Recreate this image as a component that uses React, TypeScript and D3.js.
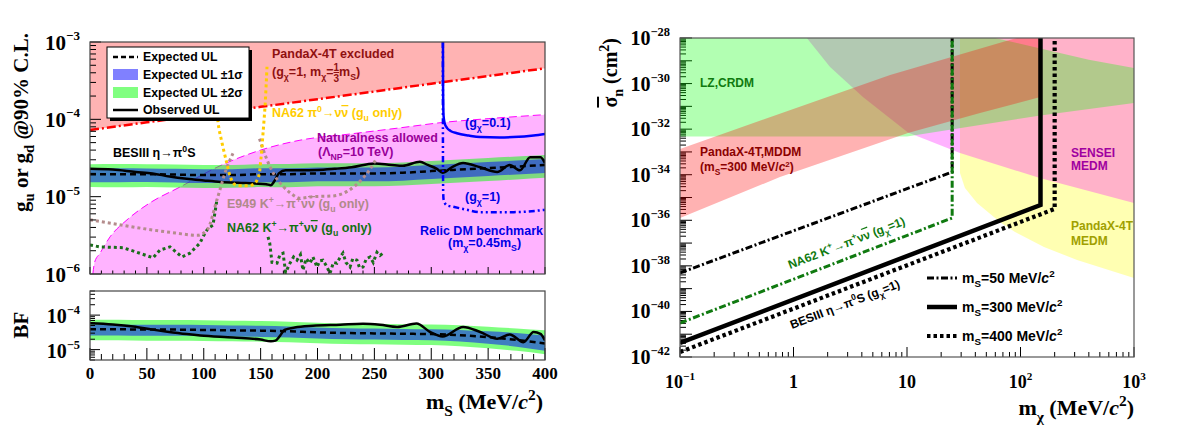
import React from "react";
import * as d3 from "d3";

const SANS = "'Liberation Sans', Arial, Helvetica, sans-serif";
const SERIF = "'Liberation Serif', 'Times New Roman', Times, serif";

// ================= LEFT PANEL DATA (BESIII eta -> pi0 S) =================
const bandMass = [0, 25, 50, 75, 100, 125, 150, 175, 200, 225, 250, 275, 300, 325, 350, 375, 400];
const gExpected = [1.95e-5, 1.95e-5, 1.95e-5, 1.93e-5, 1.9e-5, 1.9e-5, 1.95e-5, 1.95e-5, 2.0e-5, 2.0e-5, 2.0e-5, 2.04e-5, 2.14e-5, 2.24e-5, 2.34e-5, 2.45e-5, 2.57e-5];
const gSigma1Hi = [2.32e-5, 2.33e-5, 2.32e-5, 2.3e-5, 2.27e-5, 2.27e-5, 2.33e-5, 2.33e-5, 2.38e-5, 2.39e-5, 2.39e-5, 2.44e-5, 2.56e-5, 2.68e-5, 2.8e-5, 2.93e-5, 3.07e-5];
const gSigma1Lo = [1.54e-5, 1.54e-5, 1.55e-5, 1.53e-5, 1.5e-5, 1.5e-5, 1.54e-5, 1.54e-5, 1.58e-5, 1.58e-5, 1.58e-5, 1.61e-5, 1.69e-5, 1.77e-5, 1.85e-5, 1.94e-5, 2.03e-5];
const gSigma2Hi = [2.63e-5, 2.64e-5, 2.62e-5, 2.61e-5, 2.57e-5, 2.56e-5, 2.63e-5, 2.64e-5, 2.7e-5, 2.7e-5, 2.71e-5, 2.76e-5, 2.89e-5, 3.03e-5, 3.16e-5, 3.31e-5, 3.47e-5];
const gSigma2Lo = [1.33e-5, 1.32e-5, 1.33e-5, 1.31e-5, 1.29e-5, 1.3e-5, 1.33e-5, 1.32e-5, 1.36e-5, 1.36e-5, 1.36e-5, 1.39e-5, 1.46e-5, 1.52e-5, 1.59e-5, 1.67e-5, 1.75e-5];

const gObsMass = [0, 20, 40, 55, 70, 85, 100, 115, 130, 145, 155, 159, 162, 166, 172, 185, 200, 215, 230, 250, 265, 275, 290, 297, 305, 310, 318, 328, 343, 358, 369, 378, 387, 396, 400];
const gObserved = [2.29e-5, 2.24e-5, 2.09e-5, 2.0e-5, 1.82e-5, 1.7e-5, 1.62e-5, 1.55e-5, 1.51e-5, 1.48e-5, 1.45e-5, 1.41e-5, 1.58e-5, 2.0e-5, 2.19e-5, 2.19e-5, 2.21e-5, 2.29e-5, 2.4e-5, 2.69e-5, 2.57e-5, 2.51e-5, 2.82e-5, 2.57e-5, 2.29e-5, 2.04e-5, 2.4e-5, 2.72e-5, 2.4e-5, 2.09e-5, 2.57e-5, 2.19e-5, 3.24e-5, 3.24e-5, 2.72e-5];

const bfExpected = [3.89e-5, 3.89e-5, 3.8e-5, 3.8e-5, 3.72e-5, 3.63e-5, 3.55e-5, 3.39e-5, 3.16e-5, 3.02e-5, 2.95e-5, 2.88e-5, 2.82e-5, 2.63e-5, 2.29e-5, 1.91e-5, 1.51e-5];
const bfSigma1Hi = [5.37e-5, 5.37e-5, 5.24e-5, 5.24e-5, 5.13e-5, 5.01e-5, 4.9e-5, 4.68e-5, 4.36e-5, 4.17e-5, 4.07e-5, 3.97e-5, 3.89e-5, 3.73e-5, 3.39e-5, 3.02e-5, 2.57e-5];
const bfSigma1Lo = [2.57e-5, 2.57e-5, 2.51e-5, 2.51e-5, 2.46e-5, 2.4e-5, 2.34e-5, 2.24e-5, 2.09e-5, 1.99e-5, 1.95e-5, 1.9e-5, 1.86e-5, 1.72e-5, 1.49e-5, 1.22e-5, 0.93e-5];
const bfSigma2Hi = [7.39e-5, 7.39e-5, 7.22e-5, 7.22e-5, 7.07e-5, 6.9e-5, 6.75e-5, 6.44e-5, 6.0e-5, 5.74e-5, 5.61e-5, 5.47e-5, 5.36e-5, 5.1e-5, 4.6e-5, 4.1e-5, 3.63e-5];
const bfSigma2Lo = [1.87e-5, 1.87e-5, 1.82e-5, 1.82e-5, 1.79e-5, 1.74e-5, 1.7e-5, 1.63e-5, 1.52e-5, 1.45e-5, 1.42e-5, 1.38e-5, 1.35e-5, 1.26e-5, 1.1e-5, 0.92e-5, 0.74e-5];

const bfObsMass = [0, 20, 38, 55, 68, 85, 97, 126, 150, 159, 163, 167, 171, 180, 196, 220, 240, 255, 270, 287, 299, 310, 328, 343, 358, 369, 381, 390, 396, 400];
const bfObserved = [5.82e-5, 5.37e-5, 4.68e-5, 3.8e-5, 3.31e-5, 2.82e-5, 2.57e-5, 2.24e-5, 1.95e-5, 1.74e-5, 1.82e-5, 2.51e-5, 3.72e-5, 4.37e-5, 4.9e-5, 5.25e-5, 5.62e-5, 5.25e-5, 4.54e-5, 5.69e-5, 3.24e-5, 2.41e-5, 4.54e-5, 3.24e-5, 2.06e-5, 2.76e-5, 1.64e-5, 3.24e-5, 2.88e-5, 1.84e-5];

const pandaxMass = [0, 50, 100, 150, 200, 250, 300, 350, 400];
const pandaxG = [7.28e-5, 9.15e-5, 1.15e-4, 1.45e-4, 1.82e-4, 2.29e-4, 2.89e-4, 3.63e-4, 4.57e-4];

const naturalMass = [2.5, 4, 8.8, 17.6, 32.5, 52.7, 79, 111.6, 149.5, 184.6, 228.6, 272.5, 310.3, 350, 400];
const naturalG = [1e-6, 1.41e-6, 1.86e-6, 3.02e-6, 5.01e-6, 8.32e-6, 1.33e-5, 2.4e-5, 3.98e-5, 5.37e-5, 6.46e-5, 7.76e-5, 9.12e-5, 1.02e-4, 1.15e-4];

const relic01Mass = [310.3, 310.4, 310.8, 311.8, 313.8, 317, 322.6, 333, 343, 360, 372, 390, 400];
const relic01G = [1e-3, 2.51e-4, 1.12e-4, 8.91e-5, 7.76e-5, 7.08e-5, 6.61e-5, 6.17e-5, 5.89e-5, 5.82e-5, 5.89e-5, 6.17e-5, 6.46e-5];
const relic1Mass = [310.2, 310.3, 310.5, 310.9, 313.5, 319.2, 331.4, 342.9, 371.9, 400];
const relic1G = [1e-3, 3.16e-5, 1.12e-5, 9.12e-6, 7.76e-6, 7.41e-6, 6.76e-6, 6.31e-6, 6.31e-6, 6.76e-6];

const na62Pi0Mass = [110.5, 112.5, 116, 120, 123.5, 127, 136, 144, 148, 150, 152, 154, 155.6];
const na62Pi0G = [5.01e-4, 9.33e-5, 5.01e-5, 2.82e-5, 1.78e-5, 1.45e-5, 1.38e-5, 1.45e-5, 1.78e-5, 2.82e-5, 6.31e-5, 1.58e-4, 4.79e-4];

const e949LeftMass = [0, 25, 50, 75, 94, 103, 111.6, 120.4, 125.7];
const e949LeftG = [5.01e-6, 4.37e-6, 3.8e-6, 3.39e-6, 3.16e-6, 3.72e-6, 9.12e-6, 2.4e-5, 3.63e-5];
const e949RightMass = [149, 155, 162, 170, 176, 185, 196, 213, 226, 240, 246, 252];
const e949RightG = [5.62e-5, 3.16e-5, 1.91e-5, 1.35e-5, 1.12e-5, 9.55e-6, 1e-5, 1.02e-5, 1.17e-5, 1.74e-5, 2.24e-5, 3.16e-5];

const na62KLeftMass = [0, 8.8, 29, 41.3, 55.4, 61.5, 70.3, 80.9, 87.9, 96.7, 99.3, 103.7, 108.1, 111.6];
const na62KLeftG = [2.37e-6, 2.24e-6, 2.19e-6, 1.91e-6, 1.62e-6, 2.04e-6, 2.24e-6, 1.66e-6, 1.86e-6, 2.51e-6, 3.02e-6, 3.89e-6, 4.27e-6, 9.12e-6];
const na62KRightMass = [156.5, 158, 160, 164.4, 167, 169.7, 172, 175.8, 179, 182, 185, 187.2, 190, 193.4, 196, 199.6, 202, 204.8, 208, 211, 214, 217.1, 220, 222.4, 225, 228.6, 231, 234.7, 237, 240, 243, 246.2, 249, 252.3, 255, 257.6];
const na62KRightG = [3.02e-6, 2.51e-6, 1.41e-6, 1.38e-6, 1.78e-6, 1.86e-6, 1.05e-6, 1.38e-6, 1.66e-6, 1.51e-6, 1.78e-6, 1.12e-6, 1.58e-6, 1.38e-6, 1.66e-6, 1.23e-6, 1.48e-6, 1.51e-6, 1.26e-6, 1.02e-6, 1.41e-6, 1.38e-6, 1.66e-6, 1.86e-6, 1.41e-6, 1.23e-6, 1.58e-6, 1.51e-6, 1.2e-6, 1.23e-6, 1.58e-6, 1.66e-6, 1.41e-6, 1.91e-6, 1.74e-6, 1.86e-6];

const massTicks = [0, 50, 100, 150, 200, 250, 300, 350, 400];

// ================= RIGHT PANEL DATA (cross section vs m_chi) =================
const lzMchi = [0.1, 0.1, 10, 150, 1000, 1000, 400, 150, 60];
const lzSigma = [1e-28, 4.7e-33, 4.7e-33, 4.0e-32, 1.4e-31, 4.8e-30, 1.1e-29, 3.5e-29, 1e-28];
const mddmMchi = [0.1, 7.1, 80, 93, 150, 150, 44, 10.2, 0.76, 0.1];
const mddmSigma = [1.35e-33, 2.4e-30, 8.2e-29, 1e-28, 1e-28, 2.6e-31, 5.1e-32, 6.8e-33, 7.9e-35, 1.26e-36];
const senseiMchi = [1.31, 2.1, 4.09, 10.2, 29.3, 148, 1000, 1000];
const senseiSigma = [1e-28, 5.4e-30, 2.6e-31, 7.2e-33, 8.9e-34, 7.2e-35, 5.8e-36, 1e-28];
const medmMchi = [29.3, 29.3, 32.4, 41.4, 65.9, 89.5, 161, 315, 1000, 1000];
const medmSigma = [1e-28, 1.2e-34, 2.6e-35, 5.8e-36, 8.4e-37, 3.1e-37, 6.8e-38, 1.8e-38, 2.9e-39, 1e-28];

const ms50Mchi = [0.1, 25, 25];
const ms50Sigma = [4.9e-39, 1.32e-34, 1e-28];
const na62ChiMchi = [0.1, 25, 25];
const na62ChiSigma = [3.1e-41, 1.26e-36, 1e-28];
const ms300Mchi = [0.1, 150, 150];
const ms300Sigma = [4.12e-42, 4.68e-36, 1e-28];
const ms400Mchi = [0.1, 200, 200];
const ms400Sigma = [1.66e-42, 3.16e-36, 1e-28];

const sigmaLabelExps = [-28, -30, -32, -34, -36, -38, -40, -42];
const mchiLabels = [0.1, 1, 10, 100, 1000];

// ================= SCALES =================
const xL = d3.scaleLinear().domain([0, 400]).range([90, 545]);
const yG = d3.scaleLog().domain([1e-6, 1e-3]).range([274, 42]);
const yBF = d3.scaleLog().domain([5e-6, 5e-4]).range([360, 291]);
const xR = d3.scaleLog().domain([0.1, 1000]).range([680, 1134]);
const yR = d3.scaleLog().domain([1e-42, 1e-28]).range([357, 38]);

type P = [number, number];
const zip = (a: number[], b: number[]): P[] => a.map((v, i) => [v, b[i]]);

function linePath(xs: number[], ys: number[], sx: any, sy: any, curve: any = d3.curveLinear) {
  return d3.line<P>().x((d) => sx(d[0])).y((d) => sy(d[1])).curve(curve)(zip(xs, ys)) || "";
}
function bandPath(xs: number[], lo: number[], hi: number[], sx: any, sy: any, curve: any = d3.curveMonotoneX) {
  const data = xs.map((x, i) => ({ x, lo: lo[i], hi: hi[i] }));
  return d3.area<any>().x((d) => sx(d.x)).y0((d) => sy(d.lo)).y1((d) => sy(d.hi)).curve(curve)(data) || "";
}

function logTicks(lo: number, hi: number) {
  const out: { v: number; major: boolean }[] = [];
  const e0 = Math.floor(Math.log10(lo) - 1e-9);
  const e1 = Math.ceil(Math.log10(hi) + 1e-9);
  for (let e = e0; e <= e1; e++) {
    for (let k = 1; k <= 9; k++) {
      const v = k * Math.pow(10, e);
      if (v >= lo * 0.999 && v <= hi * 1.001) out.push({ v, major: k === 1 });
    }
  }
  return out;
}

type Seg = { t: string; sub?: boolean; sup?: boolean; it?: boolean; over?: boolean; under?: boolean; raise?: number; size?: number; dx?: number };

function Rich({ segs, size }: { segs: Seg[]; size: number }) {
  let shift = 0;
  return (
    <>
      {segs.map((s, i) => {
        const target = s.raise !== undefined ? s.raise : s.sub ? size * 0.3 : s.sup ? -size * 0.42 : 0;
        const dy = target - shift;
        shift = target;
        const deco = s.over ? "overline" : s.under ? "underline" : undefined;
        return (
          <tspan
            key={i}
            dy={dy !== 0 ? dy : undefined}
            dx={s.dx}
            fontSize={s.size ?? (s.sub || s.sup ? size * 0.7 : undefined)}
            fontStyle={s.it ? "italic" : undefined}
            style={deco ? { textDecoration: deco } : undefined}
          >
            {s.t}
          </tspan>
        );
      })}
    </>
  );
}

function T({ x, y, size, color = "#000", segs, anchor = "start", family = SANS, rotate = 0 }: { x: number; y: number; size: number; color?: string; segs: Seg[]; anchor?: string; family?: string; rotate?: number }) {
  return (
    <text
      transform={`translate(${x},${y}) rotate(${rotate})`}
      fontSize={size}
      fill={color}
      fontFamily={family}
      fontWeight="bold"
      textAnchor={anchor as any}
      xmlSpace="preserve"
    >
      <Rich segs={segs} size={size} />
    </text>
  );
}

function PowTen({ x, y, exp, size, anchor }: { x: number; y: number; exp: string; size: number; anchor: string }) {
  return (
    <text x={x} y={y} fontSize={size} fontFamily={SERIF} fontWeight="bold" textAnchor={anchor as any}>
      <tspan>10</tspan>
      <tspan dy={-size * 0.45} fontSize={size * 0.62}>{exp}</tspan>
    </text>
  );
}

const nu = (): Seg[] => [{ t: "ν" }, { t: "ν", over: true }];

export default function App() {
  const topTicksY = logTicks(1e-6, 1e-3);
  const bfTicksY = logTicks(5e-6, 5e-4);
  const rTicksY = logTicks(1e-42, 1e-28);
  const rTicksX = logTicks(0.1, 1000);
  const xMinor = d3.range(0, 401, 10);

  return (
    <svg width={1177} height={446} style={{ position: "absolute", left: 0, top: 0, background: "#fff" }}>
      <defs>
        <clipPath id="clipTop"><rect x={90} y={42} width={455} height={232} /></clipPath>
        <clipPath id="clipBF"><rect x={90} y={291} width={455} height={69} /></clipPath>
        <clipPath id="clipR"><rect x={680} y={38} width={454} height={319} /></clipPath>
      </defs>
      <rect x={0} y={0} width={1177} height={446} fill="#fff" />

      {/* ================= TOP LEFT PANEL ================= */}
      <g clipPath="url(#clipTop)">
        <path d={d3.area<P>().x((d) => xL(d[0])).y0(yG.range()[0]).y1((d) => yG(d[1])).curve(d3.curveMonotoneX)(zip(naturalMass, naturalG)) || ""} fill="#ffb3ff" />
        <path d={d3.area<P>().x((d) => xL(d[0])).y0(yG.range()[1]).y1((d) => yG(d[1]))(zip(pandaxMass, pandaxG)) || ""} fill="#ffb3b3" />
        <path d={linePath(naturalMass, naturalG, xL, yG, d3.curveMonotoneX)} fill="none" stroke="#ff00ff" strokeWidth={1} strokeDasharray="8,4" />
        <path d={linePath(pandaxMass, pandaxG, xL, yG)} fill="none" stroke="#ff0000" strokeWidth={2.5} strokeDasharray="9,3,2,3" />

        <path d={bandPath(bandMass, gSigma2Lo, gSigma2Hi, xL, yG)} fill="rgb(0,255,0)" fillOpacity={0.5} />
        <path d={bandPath(bandMass, gSigma1Lo, gSigma1Hi, xL, yG)} fill="rgb(0,0,255)" fillOpacity={0.5} />
        <path d={linePath(bandMass, gExpected, xL, yG, d3.curveMonotoneX)} fill="none" stroke="#000" strokeWidth={2.5} strokeDasharray="6,4" />
        <path d={linePath(gObsMass, gObserved, xL, yG, d3.curveMonotoneX)} fill="none" stroke="#000" strokeWidth={2.5} />

        <path d={linePath(na62KLeftMass, na62KLeftG, xL, yG)} fill="none" stroke="#1a6e1a" strokeWidth={3} strokeDasharray="3,3" />
        <path d={linePath(na62KRightMass, na62KRightG, xL, yG)} fill="none" stroke="#1a6e1a" strokeWidth={3} strokeDasharray="3,3" />
        <path d={linePath(e949LeftMass, e949LeftG, xL, yG, d3.curveMonotoneX)} fill="none" stroke="#b48c8c" strokeWidth={3} strokeDasharray="3,3" />
        <path d={linePath(e949RightMass, e949RightG, xL, yG, d3.curveMonotoneX)} fill="none" stroke="#b48c8c" strokeWidth={3} strokeDasharray="3,3" />
        <path d={linePath(na62Pi0Mass, na62Pi0G, xL, yG, d3.curveCatmullRom)} fill="none" stroke="#ffcc00" strokeWidth={3} strokeDasharray="3,3" />

        <path d={linePath(relic1Mass, relic1G, xL, yG, d3.curveMonotoneX)} fill="none" stroke="#0000ff" strokeWidth={2.5} strokeDasharray="6,3,2,3,2,3" />
        <path d={linePath(relic01Mass, relic01G, xL, yG, d3.curveMonotoneX)} fill="none" stroke="#0000ff" strokeWidth={2.5} />
      </g>

      {/* annotations top-left */}
      <T x={272} y={58} size={12.5} color="#8f1010" segs={[{ t: "PandaX-4T excluded" }]} />
      <T x={272} y={76} size={12.5} color="#8f1010" segs={[{ t: "(g" }, { t: "χ", sub: true }, { t: "=1, m" }, { t: "χ", sub: true }, { t: "=" }, { t: "1", raise: -5, size: 10, under: true }, { t: "3", raise: 6, size: 10, dx: -5.6 }, { t: "m" }, { t: "S", sub: true }, { t: ")" }]} />
      <T x={272} y={117} size={12.5} color="#ffcc00" segs={[{ t: "NA62 π" }, { t: "0", sup: true }, { t: "→" }, ...nu(), { t: " (g" }, { t: "u", sub: true }, { t: " only)" }]} />
      <T x={317} y={142} size={12.5} color="#990099" segs={[{ t: "Naturalness allowed" }]} />
      <T x={318} y={156} size={12.5} color="#990099" segs={[{ t: "(Λ" }, { t: "NP", sub: true }, { t: "=10 TeV)" }]} />
      <T x={465} y={127} size={12.5} color="#0000e6" segs={[{ t: "(g" }, { t: "χ", sub: true }, { t: "=0.1)" }]} />
      <T x={465} y={201} size={12.5} color="#0000e6" segs={[{ t: "(g" }, { t: "χ", sub: true }, { t: "=1)" }]} />
      <T x={420} y={235} size={12.5} color="#0000e6" segs={[{ t: "Relic DM benchmark" }]} />
      <T x={448} y={247} size={12.5} color="#0000e6" segs={[{ t: "(m" }, { t: "χ", sub: true }, { t: "=0.45m" }, { t: "S", sub: true }, { t: ")" }]} />
      <T x={113} y={157} size={12.5} color="#000" segs={[{ t: "BESIII η→π" }, { t: "0", sup: true }, { t: "S" }]} />
      <T x={227} y={208} size={12.5} color="#b08a8a" segs={[{ t: "E949 K" }, { t: "+", sup: true }, { t: "→π" }, { t: "+", sup: true }, ...nu(), { t: " (g" }, { t: "u", sub: true }, { t: " only)" }]} />
      <T x={227} y={232} size={12.5} color="#127012" segs={[{ t: "NA62 K" }, { t: "+", sup: true }, { t: "→π" }, { t: "+", sup: true }, ...nu(), { t: " (g" }, { t: "u", sub: true }, { t: " only)" }]} />

      {/* legend */}
      <rect x={110} y={50} width={142} height={71} fill="#000" />
      <rect x={107} y={47} width={142} height={71} fill="#fff" stroke="#000" strokeWidth={1} />
      <line x1={113} x2={138} y1={57} y2={57} stroke="#000" strokeWidth={2.5} strokeDasharray="5,3" />
      <rect x={113} y={69} width={25} height={11} fill="#8080ff" />
      <rect x={113} y={87} width={25} height={11} fill="#80ff80" />
      <line x1={113} x2={138} y1={110} y2={110} stroke="#000" strokeWidth={2.5} />
      <T x={143} y={61} size={12.3} segs={[{ t: "Expected UL" }]} />
      <T x={143} y={79} size={12.3} segs={[{ t: "Expected UL ±1σ" }]} />
      <T x={143} y={97} size={12.3} segs={[{ t: "Expected UL ±2σ" }]} />
      <T x={143} y={114} size={12.3} segs={[{ t: "Observed UL" }]} />

      {/* axes top-left */}
      {topTicksY.map((t, i) => (
        <line key={"ty" + i} x1={90} x2={90 + (t.major ? 11 : 6)} y1={yG(t.v)} y2={yG(t.v)} stroke="#000" strokeWidth={1} />
      ))}
      {xMinor.map((m) => (
        <line key={"tx" + m} x1={xL(m)} x2={xL(m)} y1={274} y2={274 - (m % 50 === 0 ? 7 : 3.5)} stroke="#000" strokeWidth={1} />
      ))}
      <rect x={90} y={42} width={455} height={232} fill="none" stroke="#444" strokeWidth={1.2} />
      {[-3, -4, -5, -6].map((e) => (
        <PowTen key={"gl" + e} x={80} y={yG(Math.pow(10, e)) + 7.5} exp={"−" + Math.abs(e)} size={21} anchor="end" />
      ))}
      <T x={28} y={33} size={21} family={SERIF} rotate={-90} anchor="end" segs={[{ t: "g" }, { t: "u", sub: true }, { t: " or g" }, { t: "d", sub: true }, { t: " @90% C.L." }]} />

      {/* ================= BF PANEL ================= */}
      <g clipPath="url(#clipBF)">
        <path d={bandPath(bandMass, bfSigma2Lo, bfSigma2Hi, xL, yBF)} fill="rgb(0,255,0)" fillOpacity={0.5} />
        <path d={bandPath(bandMass, bfSigma1Lo, bfSigma1Hi, xL, yBF)} fill="rgb(0,0,255)" fillOpacity={0.5} />
        <path d={linePath(bandMass, bfExpected, xL, yBF, d3.curveMonotoneX)} fill="none" stroke="#000" strokeWidth={2.5} strokeDasharray="6,4" />
        <path d={linePath(bfObsMass, bfObserved, xL, yBF, d3.curveMonotoneX)} fill="none" stroke="#000" strokeWidth={2.5} />
      </g>
      {bfTicksY.map((t, i) => (
        <line key={"by" + i} x1={90} x2={90 + (t.major ? 10 : 5)} y1={yBF(t.v)} y2={yBF(t.v)} stroke="#000" strokeWidth={1} />
      ))}
      {xMinor.map((m) => (
        <line key={"bx" + m} x1={xL(m)} x2={xL(m)} y1={360} y2={360 - (m % 50 === 0 ? 12 : 6)} stroke="#000" strokeWidth={1} />
      ))}
      <rect x={90} y={291} width={455} height={69} fill="none" stroke="#444" strokeWidth={1.2} />
      {[-4, -5].map((e) => (
        <PowTen key={"bl" + e} x={80} y={yBF(Math.pow(10, e)) + 8} exp={"−" + Math.abs(e)} size={20} anchor="end" />
      ))}
      {massTicks.map((m) => (
        <text key={"ml" + m} x={xL(m)} y={379} fontSize={17} fontFamily={SERIF} fontWeight="bold" textAnchor="middle">{m}</text>
      ))}
      <T x={28} y={325} size={21} family={SERIF} rotate={-90} anchor="middle" segs={[{ t: "BF" }]} />
      <T x={543} y={409} size={22} family={SERIF} anchor="end" segs={[{ t: "m" }, { t: "S", sub: true }, { t: " (MeV/" }, { t: "c", it: true }, { t: "2", sup: true }, { t: ")" }]} />

      {/* ================= RIGHT PANEL ================= */}
      {rTicksY.map((t, i) => (
        <line key={"ry" + i} x1={680} x2={680 + (t.major ? 12 : 6)} y1={yR(t.v)} y2={yR(t.v)} stroke="#000" strokeWidth={1} />
      ))}
      {rTicksX.map((t, i) => (
        <line key={"rx" + i} x1={xR(t.v)} x2={xR(t.v)} y1={357} y2={357 - (t.major ? 10 : 5)} stroke="#000" strokeWidth={1} />
      ))}
      <g clipPath="url(#clipR)">
        <path d={linePath(medmMchi, medmSigma, xR, yR, d3.curveLinear) + "Z"} fill="rgb(255,255,0)" fillOpacity={0.3} />
        <path d={linePath(senseiMchi, senseiSigma, xR, yR, d3.curveLinear) + "Z"} fill="rgb(255,0,255)" fillOpacity={0.3} />
        <path d={linePath(lzMchi, lzSigma, xR, yR, d3.curveLinear) + "Z"} fill="rgb(0,255,0)" fillOpacity={0.3} />
        <path d={linePath(mddmMchi, mddmSigma, xR, yR, d3.curveLinear) + "Z"} fill="rgb(255,0,0)" fillOpacity={0.3} />

        <path d={linePath(ms50Mchi, ms50Sigma, xR, yR)} fill="none" stroke="#000" strokeWidth={3} strokeDasharray="7,2.5,2,2.5" />
        <path d={linePath(na62ChiMchi, na62ChiSigma, xR, yR)} fill="none" stroke="#107a10" strokeWidth={3} strokeDasharray="7,2.5,2,2.5" />
        <path d={linePath(ms300Mchi, ms300Sigma, xR, yR)} fill="none" stroke="#000" strokeWidth={4.5} />
        <path d={linePath(ms400Mchi, ms400Sigma, xR, yR)} fill="none" stroke="#000" strokeWidth={4.2} strokeDasharray="3.5,3" />
      </g>
      <rect x={680} y={38} width={454} height={319} fill="none" stroke="#555" strokeWidth={1.2} />

      <T x={700} y={87} size={12} color="#0f7a0f" segs={[{ t: "LZ,CRDM" }]} />
      <T x={700} y={155.5} size={12} color="#8b0000" segs={[{ t: "PandaX-4T,MDDM" }]} />
      <T x={700} y={171} size={12} color="#8b0000" segs={[{ t: "(m" }, { t: "S", sub: true }, { t: "=300 MeV/" }, { t: "c", it: true }, { t: "2", raise: -4, size: 8 }, { t: ")" }]} />
      <T x={1071} y={157} size={12} color="#a000a0" segs={[{ t: "SENSEI" }]} />
      <T x={1071} y={170} size={12} color="#a000a0" segs={[{ t: "MEDM" }]} />
      <T x={1071} y={230} size={12} color="#a0a000" segs={[{ t: "PandaX-4T" }]} />
      <T x={1071} y={245} size={12} color="#a0a000" segs={[{ t: "MEDM" }]} />
      <T x={790} y={269} size={12} rotate={-21} color="#107a10" segs={[{ t: "NA62 K" }, { t: "+", sup: true }, { t: "→π" }, { t: "+", sup: true }, ...nu(), { t: " (g" }, { t: "χ", sub: true }, { t: "=1)" }]} />
      <T x={792} y={329} size={12} rotate={-21} color="#000" segs={[{ t: "BESIII η→π" }, { t: "0", sup: true }, { t: "S (g" }, { t: "χ", sub: true }, { t: "=1)" }]} />

      {/* right legend */}
      <line x1={927} x2={957} y1={278} y2={278} stroke="#000" strokeWidth={3} strokeDasharray="7,2.5,2,2.5" />
      <line x1={927} x2={957} y1={307} y2={307} stroke="#000" strokeWidth={4.5} />
      <line x1={927} x2={957} y1={336} y2={336} stroke="#000" strokeWidth={4.2} strokeDasharray="3.5,3" />
      <T x={962} y={283} size={14} segs={[{ t: "m" }, { t: "S", sub: true }, { t: "=50 MeV/" }, { t: "c", it: true }, { t: "2", sup: true }]} />
      <T x={962} y={312} size={14} segs={[{ t: "m" }, { t: "S", sub: true }, { t: "=300 MeV/" }, { t: "c", it: true }, { t: "2", sup: true }]} />
      <T x={962} y={341} size={14} segs={[{ t: "m" }, { t: "S", sub: true }, { t: "=400 MeV/" }, { t: "c", it: true }, { t: "2", sup: true }]} />

      {sigmaLabelExps.map((e) => (
        <PowTen key={"sl" + e} x={670} y={yR(Math.pow(10, e)) + 7} exp={"−" + Math.abs(e)} size={20} anchor="end" />
      ))}
      {mchiLabels.map((v) => {
        const e = Math.round(Math.log10(v));
        if (e === 0 || e === 1)
          return <text key={"xl" + v} x={xR(v)} y={388} fontSize={18} fontFamily={SERIF} fontWeight="bold" textAnchor="middle">{e === 0 ? "1" : "10"}</text>;
        return <PowTen key={"xl" + v} x={xR(v)} y={388} exp={e < 0 ? "−" + Math.abs(e) : String(e)} size={18} anchor="middle" />;
      })}
      <T x={617} y={38} size={20} family={SERIF} rotate={-90} anchor="end" segs={[{ t: "σ", over: true }, { t: "n", sub: true }, { t: " (cm" }, { t: "2", sup: true }, { t: ")" }]} />
      <T x={1134} y={415} size={22} family={SERIF} anchor="end" segs={[{ t: "m" }, { t: "χ", sub: true }, { t: " (MeV/" }, { t: "c", it: true }, { t: "2", sup: true }, { t: ")" }]} />
    </svg>
  );
}
